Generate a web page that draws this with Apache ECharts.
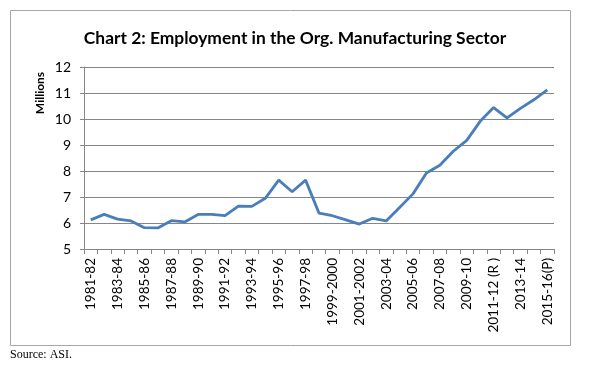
<!DOCTYPE html>
<html><head><meta charset="utf-8">
<script src="https://cdn.jsdelivr.net/npm/echarts@6/dist/echarts.min.js"></script>
<style>html,body{margin:0;padding:0;background:#fff}#c{width:600px;height:378px}</style>
</head><body><div id="c"></div>
<script>
const categories = ["1981-82","1982-83","1983-84","1984-85","1985-86","1986-87","1987-88","1988-89","1989-90","1990-91","1991-92","1992-93","1993-94","1994-95","1995-96","1996-97","1997-98","1998-99","1999-2000","2000-01","2001-2002","2002-03","2003-04","2004-05","2005-06","2006-07","2007-08","2008-09","2009-10","2010-11","2011-12 (R )","2012-13","2013-14","2014-15","2015-16(P)"];
const employment = [6.12,6.33,6.15,6.08,5.82,5.81,6.09,6.04,6.33,6.33,6.28,6.65,6.64,6.95,7.65,7.2,7.65,6.38,6.28,6.12,5.96,6.18,6.08,6.6,7.12,7.92,8.22,8.76,9.18,9.91,10.44,10.04,10.41,10.74,11.12];
const yTicks = {min:5, max:12, interval:1};

const chart = echarts.init(document.getElementById('c'), null, {renderer:'canvas'});
chart.setOption({
  animation:false,
  title:{text:'Chart 2: Employment in the Org. Manufacturing Sector', left:290, top:25, textAlign:'center',
    textStyle:{fontFamily:'Lato', fontWeight:'bold', fontSize:17.4, color:'#000'}},
  grid:{left:84, right:46, top:67, bottom:129},
  xAxis:{type:'category', data:categories, boundaryGap:true,
    axisLine:{lineStyle:{color:'#868686', width:1}},
    axisTick:{show:true, interval:0, length:5, lineStyle:{color:'#868686'}},
    axisLabel:{interval:1, rotate:90, fontFamily:'Lato', fontSize:13.5, color:'#000', margin:9}},
  yAxis:{type:'value', min:yTicks.min, max:yTicks.max, interval:yTicks.interval,
    axisLine:{show:true, lineStyle:{color:'#868686'}},
    axisTick:{show:true, length:4, lineStyle:{color:'#868686'}},
    splitLine:{lineStyle:{color:'#868686', width:1}},
    axisLabel:{fontFamily:'Lato', fontSize:14, color:'#000', margin:13}},
  series:[{type:'line', data:employment, symbol:'none', lineStyle:{color:'#4a7ebb', width:2.8}}],
  graphic:[
    {type:'rect', shape:{x:10.5, y:10.5, width:560, height:335}, style:{fill:null, stroke:'#a6a6a6', lineWidth:1}, silent:true},
    {type:'text', x:40, y:93, rotation:Math.PI/2, style:{text:'Millions', font:'bold 12px Lato', fill:'#000', align:'center', verticalAlign:'middle'}},
    {type:'text', left:10, top:349, style:{text:'Source: ASI.', font:'12px "Liberation Serif"', fill:'#000'}}
  ]
});
</script></body></html>
